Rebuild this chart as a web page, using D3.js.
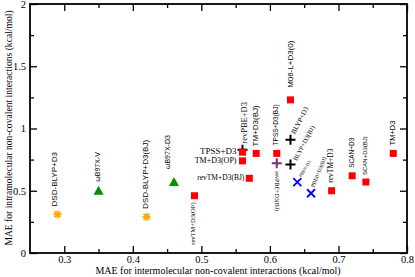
<!DOCTYPE html>
<html>
<head>
<meta charset="utf-8">
<script src="https://cdnjs.cloudflare.com/ajax/libs/d3/7.8.5/d3.min.js"></script>
<style>
  body { margin: 0; background: #fff; }
  svg { display: block; }
  text { font-family: "Liberation Serif", "Times New Roman", serif; }
</style>
</head>
<body>
<div class="canvas"></div>
<script>
// what to show
var methods = ['DSD-BLYP+D3', 'ωB97X-V', 'DSD-BLYP+D3(BJ)', 'ωB97X-D3', 'revTM+D3(OP)',
    'revPBE+D3', 'TPSS+D3', 'TM+D3(OP)', 'TM+D3(BJ)', 'revTM+D3(BJ)',
    'TPSS+D3(BJ)', 'revPBE+D3(BJ)', 'BLYP+D3', 'BLYP+D3(BJ)', 'M06-L+D3(0)',
    'PBE0+D3', 'PBE0+D3(BJ)', 'revTM+D3', 'SCAN+D3', 'SCAN+D3(BJ)', 'TM+D3'];
var interMAE = [0.29, 0.35, 0.42, 0.46, 0.49,
    0.56, 0.56, 0.56, 0.58, 0.57,
    0.61, 0.61, 0.63, 0.63, 0.63,
    0.64, 0.66, 0.69, 0.72, 0.74, 0.78];
var intraMAE = [0.31, 0.50, 0.29, 0.57, 0.46,
    0.83, 0.81, 0.74, 0.80, 0.60,
    0.80, 0.72, 0.91, 0.71, 1.23,
    0.57, 0.48, 0.50, 0.62, 0.57, 0.80];
var kinds = ['star', 'tri', 'star', 'tri', 'square',
    'plus', 'square', 'square', 'square', 'square',
    'square', 'plus2', 'plus', 'plus', 'square',
    'cross', 'cross', 'square', 'square', 'square', 'square'];

var xTicks = [0.3, 0.4, 0.5, 0.6, 0.7, 0.8],
    xMinor = [0.35, 0.45, 0.55, 0.65, 0.75],
    yTicks = [0, 0.5, 1, 1.5, 2],
    yMinor = [0.25, 0.75, 1.25, 1.75];

// label placement: dx, dy from the marker, rotation, size, anchor, font
var labelPos = {
    'DSD-BLYP+D3':     [-3, -8, -90, 8, 'start', 's'],
    'ωB97X-V':         [0, -9, -90, 7, 'start', 's'],
    'DSD-BLYP+D3(BJ)': [-1, -8, -90, 8, 'start', 's'],
    'ωB97X-D3':        [-6, -13, -90, 7, 'start', 's'],
    'revTM+D3(OP)':    [-1, 49, -90, 6.5, 'start', 'r'],
    'revPBE+D3':       [3, -6, -90, 8.5, 'start', 'r'],
    'TPSS+D3':         [-6, 0, 0, 9, 'end', 'r'],
    'TM+D3(OP)':       [-6, 0, 0, 8, 'end', 'r'],
    'TM+D3(BJ)':       [0, -7, -90, 8, 'start', 's'],
    'revTM+D3(BJ)':    [-5, 0, 0, 7.5, 'end', 'r'],
    'TPSS+D3(BJ)':     [0, -8, -90, 6.5, 'start', 's'],
    'revPBE+D3(BJ)':   [0, 8, 90, 6, 'start', 'r'],
    'BLYP+D3':         [3, -6, -62, 7, 'start', 'r'],
    'BLYP+D3(BJ)':     [5, -4, -62, 6.5, 'start', 'r'],
    'M06-L+D3(0)':     [0, -12, -90, 8, 'start', 's'],
    'PBE0+D3':         [3, -5, -58, 4.5, 'start', 'r'],
    'PBE0+D3(BJ)':     [2, -6, -68, 5.5, 'start', 'r'],
    'revTM+D3':        [0, -8, -90, 7.5, 'start', 'r'],
    'SCAN+D3':         [0, -8, -90, 6.5, 'start', 's'],
    'SCAN+D3(BJ)':     [0, -7, -90, 6, 'start', 's'],
    'TM+D3':           [0, -8, -90, 7.5, 'start', 's']
};

var width = 415, height = 277;
var svg = d3.select('.canvas').append('svg')
    .attr('width', width)
    .attr('height', height);

var x = d3.scaleLinear().domain([0.25, 0.8]).range([30, 407]),
    y = d3.scaleLinear().domain([0, 2]).range([253, 4]);

// axes, ticks pointing inward on all four sides
function styleAxis(g) {
    g.select('.domain').remove();
    g.selectAll('line').attr('stroke', '#000').attr('stroke-width', 1.3);
    g.selectAll('text').attr('fill', '#000')
        .style('font-family', '"Liberation Serif", serif').style('font-size', '10.5px');
}

svg.append('g').attr('transform', 'translate(0,253)')
    .call(d3.axisBottom(x).tickValues(xTicks).tickSize(-7).tickPadding(3).tickFormat(d3.format('.1f')))
    .call(styleAxis);
svg.append('g').attr('transform', 'translate(0,253)')
    .call(d3.axisBottom(x).tickValues(xMinor).tickSize(-4).tickFormat(''))
    .call(styleAxis);
svg.append('g').attr('transform', 'translate(0,4)')
    .call(d3.axisTop(x).tickValues(xTicks).tickSize(-7).tickFormat(''))
    .call(styleAxis);
svg.append('g').attr('transform', 'translate(0,4)')
    .call(d3.axisTop(x).tickValues(xMinor).tickSize(-4).tickFormat(''))
    .call(styleAxis);
svg.append('g').attr('transform', 'translate(30,0)')
    .call(d3.axisLeft(y).tickValues(yTicks).tickSize(-7).tickPadding(4).tickFormat(d3.format('')))
    .call(styleAxis);
svg.append('g').attr('transform', 'translate(30,0)')
    .call(d3.axisLeft(y).tickValues(yMinor).tickSize(-4).tickFormat(''))
    .call(styleAxis);
svg.append('g').attr('transform', 'translate(407,0)')
    .call(d3.axisRight(y).tickValues(yTicks).tickSize(-7).tickFormat(''))
    .call(styleAxis);
svg.append('g').attr('transform', 'translate(407,0)')
    .call(d3.axisRight(y).tickValues(yMinor).tickSize(-4).tickFormat(''))
    .call(styleAxis);

svg.append('rect')
    .attr('x', 30).attr('y', 4)
    .attr('width', 377).attr('height', 249)
    .attr('fill', 'none').attr('stroke', '#000').attr('stroke-width', 1.8);

// axis titles
svg.append('text')
    .attr('x', 218).attr('y', 274)
    .attr('text-anchor', 'middle')
    .style('font-size', '10px')
    .text('MAE for intermolecular non-covalent interactions (kcal/mol)');
svg.append('text')
    .attr('transform', 'translate(12,128) rotate(-90)')
    .attr('text-anchor', 'middle')
    .style('font-size', '9.6px')
    .text('MAE for intramolecular non-covalent interactions (kcal/mol)');

// markers
var data = methods.map(function (m, i) {
    return { name: m, x: interMAE[i], y: intraMAE[i], kind: kinds[i] };
});

var pts = svg.append('g').selectAll('g')
    .data(data)
    .enter()
    .append('g')
    .attr('transform', function (d) {
        return 'translate(' + x(d.x) + ',' + y(d.y) + ')';
    });

pts.each(function (d) {
    var g = d3.select(this);
    if (d.kind === 'square') {
        g.append('rect').attr('x', -3.5).attr('y', -3.5)
            .attr('width', 7).attr('height', 7).attr('fill', '#ff0000');
    } else if (d.kind === 'plus' || d.kind === 'plus2') {
        g.append('path').attr('d', 'M-5,0H5M0,-5V5')
            .attr('stroke', d.kind === 'plus' ? '#000' : '#7a2e6e')
            .attr('stroke-width', 2).attr('fill', 'none');
    } else if (d.kind === 'cross') {
        g.append('path').attr('d', 'M-4,-4L4,4M-4,4L4,-4')
            .attr('stroke', '#0000ff').attr('stroke-width', 1.8).attr('fill', 'none');
    } else if (d.kind === 'tri') {
        g.append('path').attr('d', 'M0,-5L5,4H-5Z').attr('fill', '#009000');
    } else if (d.kind === 'star') {
        g.append('path').attr('d', 'M-4,0H4M0,-4V4M-3,-3L3,3M-3,3L3,-3')
            .attr('stroke', '#ffa500').attr('stroke-width', 1.6).attr('fill', 'none');
    }
});

// labels
pts.append('text')
    .attr('transform', function (d) {
        var p = labelPos[d.name];
        return 'translate(' + p[0] + ',' + p[1] + ') rotate(' + p[2] + ')';
    })
    .attr('text-anchor', function (d) { return labelPos[d.name][4]; })
    .attr('dominant-baseline', 'middle')
    .style('font-size', function (d) { return labelPos[d.name][3] + 'px'; })
    .style('font-family', function (d) {
        return labelPos[d.name][5] === 's' ? '"Liberation Sans", Arial, sans-serif' : '"Liberation Serif", serif';
    })
    .text(function (d) { return d.name; });
</script>
</body>
</html>
